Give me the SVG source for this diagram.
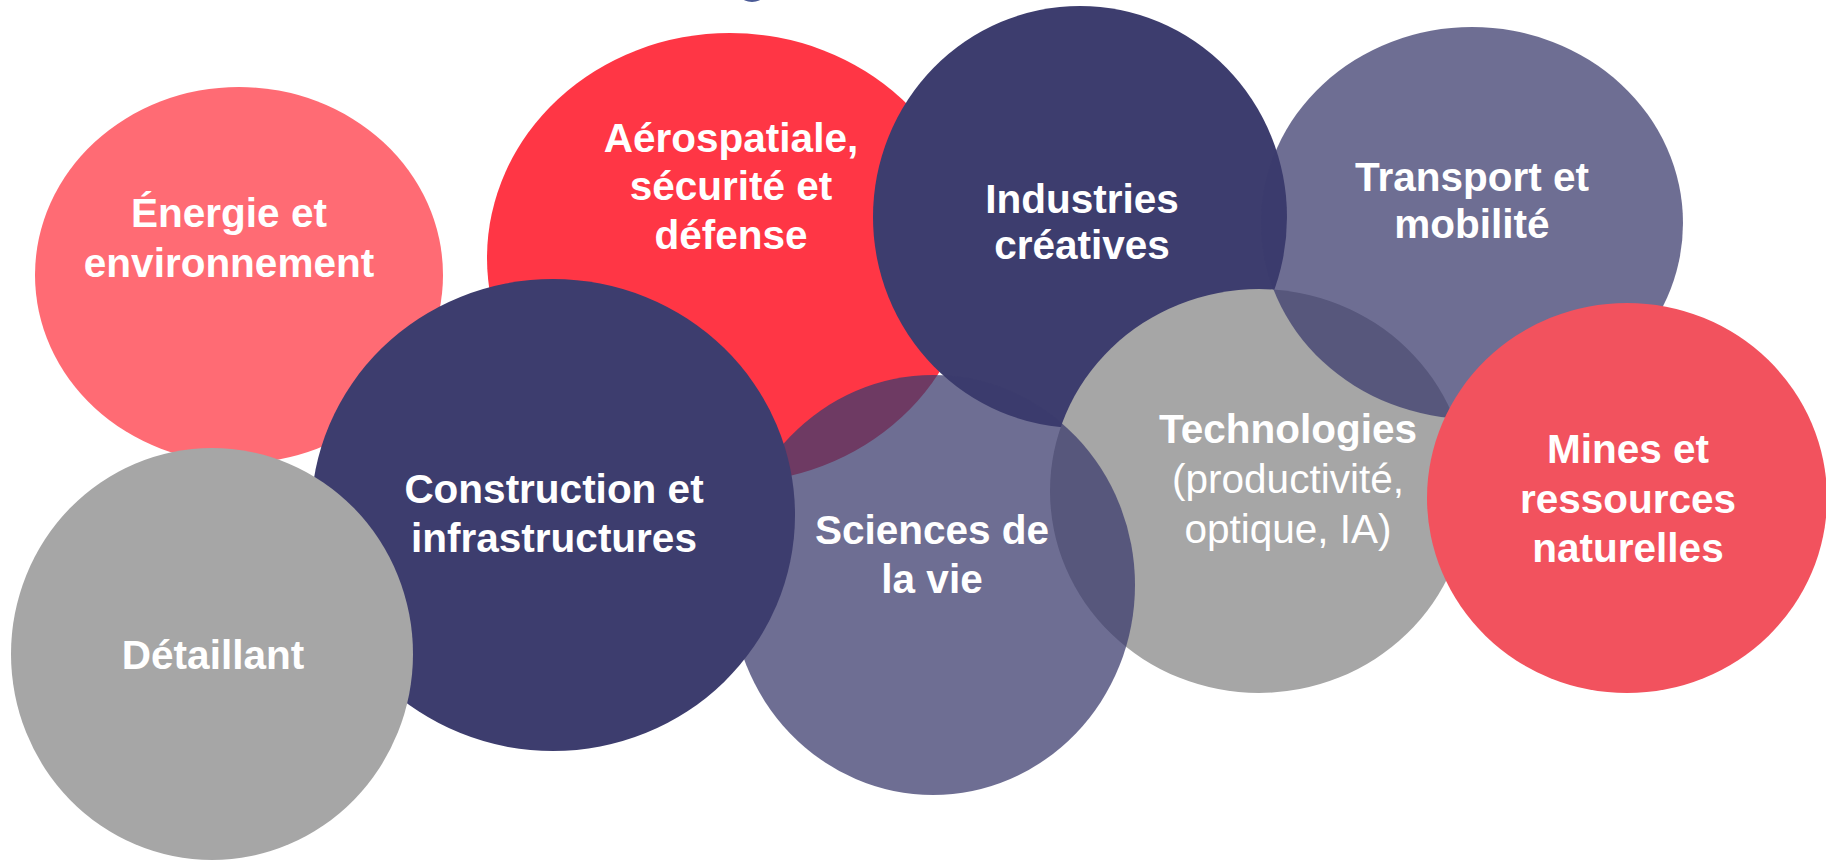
<svg xmlns="http://www.w3.org/2000/svg" width="1826" height="861" viewBox="0 0 1826 861">
<style>
text{font-family:"Liberation Sans",Arial,sans-serif;font-size:40.5px;fill:#ffffff;text-anchor:middle;font-weight:bold}
.reg{font-weight:normal}
.navy{fill:#3D3D6E}
.navyA{fill:#3C3C6D;fill-opacity:0.742}
.gray{fill:#A6A6A6}
</style>
<rect width="1826" height="861" fill="#ffffff"/>
<ellipse cx="752" cy="-3" rx="10" ry="5" fill="#4A5A96"/>
<g id="energie">
<ellipse cx="239" cy="275" rx="204" ry="188" fill="#FF6B74"/>
<text><tspan x="229" y="227">Énergie et</tspan><tspan x="229" y="277">environnement</tspan></text>
</g>
<g id="aerospatiale">
<ellipse cx="730" cy="258" rx="243" ry="225" fill="#FF3645"/>
<text><tspan x="731" y="152">Aérospatiale,</tspan><tspan x="731" y="200">sécurité et</tspan><tspan x="731" y="249">défense</tspan></text>
</g>
<g id="industries">
<ellipse class="navy" cx="1080" cy="217" rx="207" ry="211"/>
<text><tspan x="1082" y="213">Industries</tspan><tspan x="1082" y="259">créatives</tspan></text>
</g>
<g id="technologies">
<ellipse class="gray" cx="1259" cy="491" rx="209" ry="202"/>
</g>
<g id="sciences">
<ellipse class="navyA" cx="933" cy="585" rx="202" ry="210"/>
<text><tspan x="932" y="544">Sciences de</tspan><tspan x="932" y="593">la vie</tspan></text>
</g>
<g id="transport">
<ellipse class="navyA" cx="1472" cy="223" rx="211" ry="196"/>
<text><tspan x="1472" y="191">Transport et</tspan><tspan x="1472" y="238">mobilité</tspan></text>
</g>
<g id="technologies-label">
<text><tspan x="1288" y="443">Technologies</tspan><tspan class="reg" x="1288" y="493">(productivité,</tspan><tspan class="reg" x="1288" y="543">optique, IA)</tspan></text>
</g>
<g id="construction">
<ellipse class="navy" cx="553" cy="515" rx="242" ry="236"/>
<text><tspan x="554" y="503">Construction et</tspan><tspan x="554" y="552">infrastructures</tspan></text>
</g>
<g id="mines">
<ellipse cx="1627" cy="498" rx="200" ry="195" fill="#F2525E"/>
<text><tspan x="1628" y="463">Mines et</tspan><tspan x="1628" y="513">ressources</tspan><tspan x="1628" y="562">naturelles</tspan></text>
</g>
<g id="detaillant">
<ellipse class="gray" cx="212" cy="654" rx="201" ry="206"/>
<text x="213" y="669">Détaillant</text>
</g>
<g id="connectors"></g>
</svg>
